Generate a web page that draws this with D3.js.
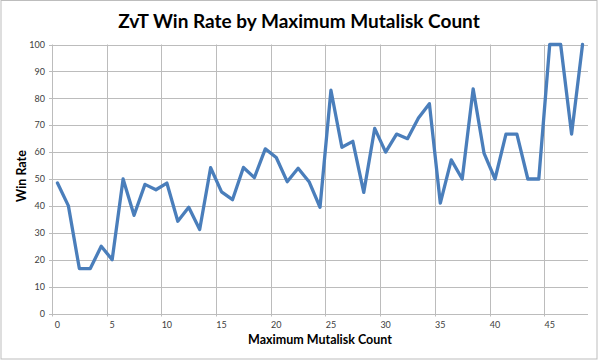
<!DOCTYPE html>
<html>
<head>
<meta charset="utf-8">
<script src="https://cdn.jsdelivr.net/npm/d3@7"></script>
<style>
html,body{margin:0;padding:0;background:#fff;}
svg{display:block;}
text{font-family:Lato,"Open Sans",sans-serif;}
</style>
</head>
<body>
<svg id="chart" width="599" height="360"></svg>
<script>
const title = "ZvT Win Rate by Maximum Mutalisk Count";
const xTitle = "Maximum Mutalisk Count";
const yTitle = "Win Rate";
const counts = d3.range(0, 49);
const winRate = [48.5, 40, 16.7, 16.7, 25, 20, 50, 36.5, 48, 46,
  48.5, 34.3, 39.5, 31.2, 54.2, 45.2, 42.3, 54.3, 50.5, 61.2,
  58, 49, 54, 49, 39.5, 83, 61.8, 64, 45, 68.8,
  60, 66.7, 65, 72.7, 78, 41, 57.1, 50, 83.5, 59.5,
  50, 66.7, 66.7, 50, 50, 100, 100, 66.7, 100];
const yTicks = [0, 10, 20, 30, 40, 50, 60, 70, 80, 90, 100];
const xTickLabels = [0, 5, 10, 15, 20, 25, 30, 35, 40, 45];

const svg = d3.select("#chart");
const pLeft = 52, pRight = 588, pTop = 44.5, pBottom = 313.5;

// outer border
svg.append("rect").attr("x", 1).attr("y", 0.5).attr("width", 596).attr("height", 358.5)
  .attr("fill", "#fff").attr("stroke", "#bdbdbd").attr("stroke-width", 1);

const x = d3.scaleBand().domain(counts).range([pLeft, pRight]).paddingInner(0).paddingOuter(0);
const y = d3.scaleLinear().domain([0, 100]).range([pBottom, pTop]);

// horizontal gridlines
svg.append("g").selectAll("line").data(yTicks.filter(d => d > 0)).join("line")
  .attr("x1", pLeft - 3).attr("x2", pRight)
  .attr("y1", d => Math.round(y(d)) + 0.5).attr("y2", d => Math.round(y(d)) + 0.5)
  .attr("stroke", "#bcbcbc").attr("stroke-width", 1);

// vertical gridlines at category boundaries every 5
const vBounds = xTickLabels.filter(d => d > 0);
svg.append("g").selectAll("line").data(vBounds).join("line")
  .attr("x1", d => Math.round(x(d)) + 0.5).attr("x2", d => Math.round(x(d)) + 0.5)
  .attr("y1", pTop).attr("y2", pBottom + 3)
  .attr("stroke", "#bcbcbc").attr("stroke-width", 1);

// axes lines
svg.append("line").attr("x1", pLeft + 0.5).attr("x2", pLeft + 0.5).attr("y1", pTop).attr("y2", pBottom + 3)
  .attr("stroke", "#bcbcbc");
svg.append("line").attr("x1", pLeft - 3).attr("x2", pRight).attr("y1", Math.round(y(0)) + 0.5).attr("y2", Math.round(y(0)) + 0.5)
  .attr("stroke", "#bcbcbc");

// y tick labels
svg.append("g").selectAll("text").data(yTicks).join("text")
  .attr("x", 45).attr("y", d => y(d) + 3.2)
  .attr("text-anchor", "end").attr("font-size", 9).attr("fill", "#404040")
  .text(d => d);

// x tick labels
svg.append("g").selectAll("text").data(xTickLabels).join("text")
  .attr("x", d => x(d) + x.bandwidth() / 2).attr("y", 328)
  .attr("text-anchor", "middle").attr("font-size", 9).attr("fill", "#404040")
  .text(d => d);

// line
const line = d3.line().x((d, i) => x(counts[i]) + x.bandwidth() / 2).y(d => y(d));
svg.append("path").datum(winRate).attr("d", line)
  .attr("fill", "none").attr("stroke", "#4a7ebb").attr("stroke-width", 3.3)
  .attr("stroke-linejoin", "round").attr("stroke-linecap", "round");

// titles
svg.append("text").attr("x", 299).attr("y", 28).attr("text-anchor", "middle")
  .attr("font-size", 19).attr("font-weight", "bold").attr("fill", "#000").text(title);
svg.append("text").attr("x", 320).attr("y", 344).attr("text-anchor", "middle")
  .attr("font-size", 12.5).attr("font-weight", "bold").attr("fill", "#000").text(xTitle);
svg.append("text").attr("transform", "translate(26,176) rotate(-90)").attr("text-anchor", "middle")
  .attr("font-size", 12.5).attr("font-weight", "bold").attr("fill", "#000").text(yTitle);
</script>
</body>
</html>
